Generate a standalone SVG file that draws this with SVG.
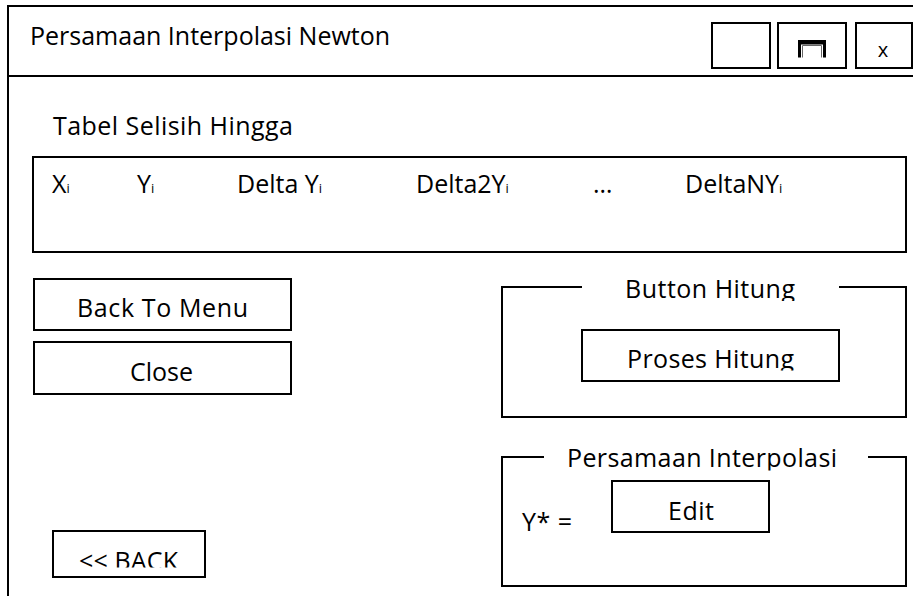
<svg xmlns="http://www.w3.org/2000/svg" width="913" height="596" viewBox="0 0 913 596">
<style>
.ln{fill:none;stroke:#000;stroke-width:2}
.bx{fill:#fff;stroke:#000;stroke-width:2}
.t{font-family:"Open Sans","Noto Sans","Liberation Sans",sans-serif;font-size:25px;fill:#000}
.sub{font-size:13px}
</style>
<defs>
<clipPath id="cBH"><rect x="502" y="270" width="404" height="31"/></clipPath>
<clipPath id="cPH"><rect x="583" y="331" width="255" height="39.5"/></clipPath>
<clipPath id="cPI"><rect x="502" y="440" width="404" height="30.5"/></clipPath>
<clipPath id="cBK"><rect x="54" y="532" width="150" height="35.5"/></clipPath>
</defs>
<rect width="913" height="596" fill="#fff"/>
<g id="window">
<path class="ln" d="M8,596 V6 H913"/>
<path class="ln" d="M8,76 H913"/>
<text class="t" x="30" y="45">Persamaan Interpolasi Newton</text>
</g>
<g id="btn-minimize"><rect class="bx" x="712" y="23" width="58" height="45"/></g>
<g id="btn-maximize">
<rect class="bx" x="778" y="23" width="68" height="45"/>
<path d="M798,57.5 V40 H826 V57.5 H823 V44.5 H801 V57.5 Z" fill="#000"/>
<path d="M802.5,57.5 V45.5 H821.5 V57.5" fill="none" stroke="#666" stroke-width="1"/>
</g>
<g id="btn-close-x">
<rect class="bx" x="856" y="23" width="56" height="45"/>
<text class="t" x="883" y="57" text-anchor="middle" style="font-size:20px">x</text>
</g>
<g id="tabel-label"><text class="t" x="53" y="135" textLength="240">Tabel Selisih Hingga</text></g>
<g id="tabel">
<rect class="bx" x="33" y="157" width="873" height="95"/>
<text class="t" x="52" y="193">X<tspan class="sub">i</tspan></text>
<text class="t" x="137" y="193">Y<tspan class="sub">i</tspan></text>
<text class="t" x="237" y="193">Delta Y<tspan class="sub">i</tspan></text>
<text class="t" x="416" y="193">Delta2Y<tspan class="sub">i</tspan></text>
<text class="t" x="593" y="193">…</text>
<text class="t" x="685" y="193">DeltaNY<tspan class="sub">i</tspan></text>
</g>
<g id="btn-back-to-menu">
<rect class="bx" x="34" y="279" width="257" height="51"/>
<text class="t" x="162.5" y="317" text-anchor="middle" textLength="171">Back To Menu</text>
</g>
<g id="btn-close">
<rect class="bx" x="34" y="342" width="257" height="52"/>
<text class="t" x="161.5" y="381" text-anchor="middle">Close</text>
</g>
<g id="btn-back">
<rect class="bx" x="53" y="531" width="152" height="46"/>
<text class="t" x="79" y="570" clip-path="url(#cBK)" textLength="99">&lt;&lt; BACK</text>
</g>
<g id="group-button-hitung">
<path class="ln" d="M582,287 H502 V417 H906 V287 H839"/>
<text class="t" x="625" y="298" clip-path="url(#cBH)" textLength="170">Button Hitung</text>
</g>
<g id="btn-proses-hitung">
<rect class="bx" x="582" y="330" width="257" height="51"/>
<text class="t" x="627" y="368" clip-path="url(#cPH)" textLength="167">Proses Hitung</text>
</g>
<g id="group-persamaan">
<path class="ln" d="M544,457 H502 V586 H906 V457 H868"/>
<text class="t" x="567" y="467" clip-path="url(#cPI)" textLength="270">Persamaan Interpolasi</text>
<text class="t" x="522" y="531" textLength="50">Y* =</text>
</g>
<g id="edit-field">
<rect class="bx" x="612" y="481" width="157" height="51"/>
<text class="t" x="668" y="520" textLength="46">Edit</text>
</g>
<g id="connectors"/>
</svg>
